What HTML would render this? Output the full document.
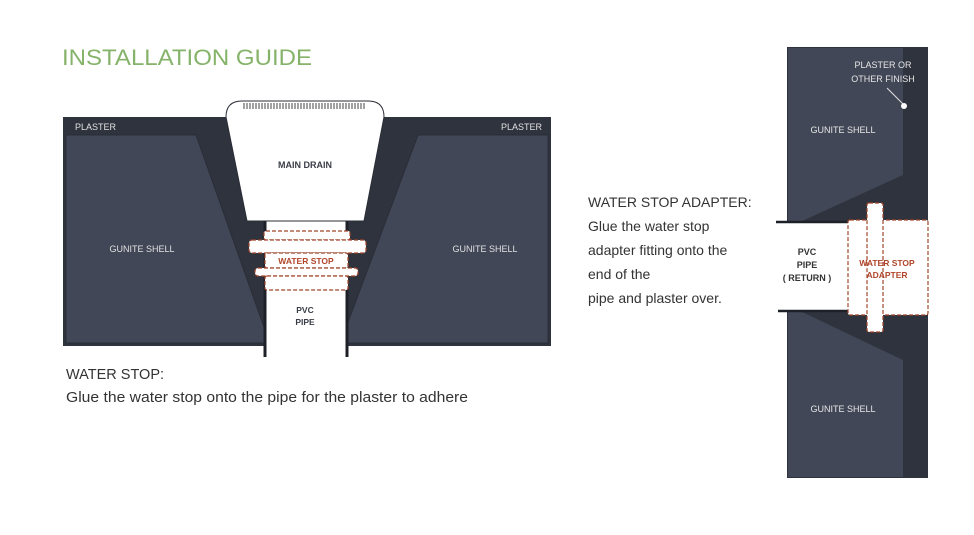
<!DOCTYPE html>
<html><head><meta charset="utf-8"><style>
html,body{margin:0;padding:0;background:#fff;}
svg{display:block;font-family:"Liberation Sans",sans-serif;}
</style></head><body>
<svg width="974" height="535" viewBox="0 0 974 535" xmlns="http://www.w3.org/2000/svg">
<rect width="974" height="535" fill="#fff"/>
<text x="62" y="65" font-size="22" fill="#86b36a" textLength="250" lengthAdjust="spacingAndGlyphs">INSTALLATION GUIDE</text>

<!-- Left diagram -->
<rect x="63" y="117" width="488" height="229" fill="#2f333e"/>
<polygon points="66,135 196,135 265,330 265,343 66,343" fill="#424757" stroke="#2a2d36" stroke-width="1"/>
<polygon points="418,135 548,135 548,343 348,343 348,322" fill="#424757" stroke="#2a2d36" stroke-width="1"/>
<text x="75" y="130" font-size="9" fill="#e0e0e0">PLASTER</text>
<text x="542" y="130" font-size="9" fill="#e0e0e0" text-anchor="end">PLASTER</text>
<text x="142" y="252" font-size="9" fill="#e0e0e0" text-anchor="middle">GUNITE SHELL</text>
<text x="485" y="252" font-size="9" fill="#e0e0e0" text-anchor="middle">GUNITE SHELL</text>
<!-- pipe -->
<rect x="265" y="219" width="82" height="138" fill="#fff"/>
<line x1="265" y1="221" x2="265" y2="357" stroke="#1e2028" stroke-width="3"/>
<line x1="347" y1="221" x2="347" y2="357" stroke="#1e2028" stroke-width="3"/>
<!-- main drain -->
<path d="M226,117 Q226,101 242,101 L368,101 Q384,101 384,117 L364,221 L247,221 Z" fill="#fff" stroke="#2a2d36" stroke-width="1"/>
<g stroke="#444" stroke-width="1">
<path d="M244,103v6M247,103v6M250,103v6M253,103v6M256,103v6M259,103v6M262,103v6M265,103v6M268,103v6M271,103v6M274,103v6M277,103v6M280,103v6M283,103v6M286,103v6M289,103v6M292,103v6M295,103v6M298,103v6M301,103v6M304,103v6M307,103v6M310,103v6M313,103v6M316,103v6M319,103v6M322,103v6M325,103v6M328,103v6M331,103v6M334,103v6M337,103v6M340,103v6M343,103v6M346,103v6M349,103v6M352,103v6M355,103v6M358,103v6M361,103v6M364,103v6"/>
</g>
<text x="305" y="168" font-size="9" font-weight="bold" fill="#3a3d48" text-anchor="middle">MAIN DRAIN</text>
<!-- water stops -->
<g fill="#fff" stroke="#a0452a" stroke-width="1.2" stroke-dasharray="4,2">
<rect x="264" y="231" width="86" height="9" rx="2"/>
<rect x="249" y="240" width="117" height="13" rx="3"/>
<rect x="265" y="253" width="83" height="15" rx="2"/>
<rect x="255" y="268" width="103" height="8" rx="3"/>
<rect x="265" y="276" width="83" height="14" rx="2"/>
</g>
<text x="306" y="264" font-size="8.5" font-weight="bold" fill="#b0452a" text-anchor="middle">WATER STOP</text>
<text x="305" y="313" font-size="8.5" font-weight="bold" fill="#3a3d48" text-anchor="middle">PVC</text>
<text x="305" y="325" font-size="8.5" font-weight="bold" fill="#3a3d48" text-anchor="middle">PIPE</text>

<text x="66" y="379" font-size="14.5" fill="#333">WATER STOP:</text>
<text x="66" y="402" font-size="14.5" fill="#333" textLength="402" lengthAdjust="spacingAndGlyphs">Glue the water stop onto the pipe for the plaster to adhere</text>

<g font-size="14" fill="#333">
<text x="588" y="207">WATER STOP ADAPTER:</text>
<text x="588" y="231">Glue the water stop</text>
<text x="588" y="255">adapter fitting onto the</text>
<text x="588" y="279">end of the</text>
<text x="588" y="303">pipe and plaster over.</text>
</g>

<!-- Right diagram -->
<rect x="787" y="47" width="141" height="431" fill="#2f333e"/>
<polygon points="788,48 903,48 903,175 800,222 788,222" fill="#424757"/>
<polygon points="788,311 800,311 903,360 903,477 788,477" fill="#424757"/>
<rect x="776" y="222" width="74" height="89" fill="#fff"/>
<line x1="776" y1="222" x2="850" y2="222" stroke="#1e2028" stroke-width="2.5"/>
<line x1="778" y1="311" x2="850" y2="311" stroke="#1e2028" stroke-width="2.5"/>
<g fill="#fff" stroke="#a0452a" stroke-width="1.2" stroke-dasharray="4,2">
<rect x="848" y="220" width="80" height="95" rx="2"/>
<rect x="867" y="203" width="16" height="129" rx="2"/>
</g>
<text x="883" y="68" font-size="9" fill="#e6e6e6" text-anchor="middle">PLASTER OR</text>
<text x="883" y="82" font-size="9" fill="#e6e6e6" text-anchor="middle">OTHER FINISH</text>
<line x1="887" y1="88" x2="904" y2="105" stroke="#ddd" stroke-width="1"/>
<circle cx="904" cy="106" r="3" fill="#fff"/>
<text x="843" y="133" font-size="9" fill="#e6e6e6" text-anchor="middle">GUNITE SHELL</text>
<text x="843" y="412" font-size="9" fill="#e6e6e6" text-anchor="middle">GUNITE SHELL</text>
<g font-size="9" font-weight="bold" fill="#333" text-anchor="middle">
<text x="807" y="255">PVC</text>
<text x="807" y="268">PIPE</text>
<text x="807" y="281">( RETURN )</text>
</g>
<g font-size="8.5" font-weight="bold" fill="#b0452a" text-anchor="middle">
<text x="887" y="266">WATER STOP</text>
<text x="887" y="278">ADAPTER</text>
</g>
</svg>
</body></html>
